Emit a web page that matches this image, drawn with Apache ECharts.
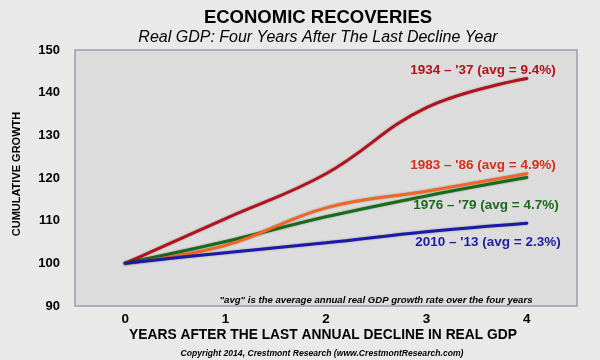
<!DOCTYPE html>
<html>
<head>
<meta charset="utf-8">
<script src="https://cdn.jsdelivr.net/npm/echarts@6/dist/echarts.min.js"></script>
<style>
html,body{margin:0;padding:0;background:#e9e9e9;}
#c{width:600px;height:360px;}
</style>
</head>
<body>
<div id="c"></div>
<script>
var years = [0, 1, 2, 3, 4];
var s1934 = [100, 110.5, 121, 136.5, 143.3];
var s1983 = [100, 104.2, 113.0, 116.9, 121.0];
var s1976 = [100, 105.1, 110.9, 115.8, 120.1];
var s2010 = [100, 102.5, 104.8, 107.4, 109.4];
var yTicks = [90, 100, 110, 120, 130, 140, 150];
var seriesNames = ["1934 – '37 (avg = 9.4%)", "1983 – '86 (avg = 4.9%)", "1976 – '79 (avg = 4.7%)", "2010 – '13 (avg = 2.3%)"];

function pts(arr){ return years.map(function(x,i){ return [x, arr[i]]; }); }

var F = '"Liberation Sans", Arial, sans-serif';
var chart = echarts.init(document.getElementById('c'));

function line(name, data, color, z){
  return {
    name: name, type: 'line', data: pts(data), smooth: 0.4, symbol: 'none', z: z,
    lineStyle: { color: color, width: 3, shadowBlur: 2, shadowColor: 'rgba(0,0,0,0.35)', cap: 'round' }
  };
}

chart.setOption({
  backgroundColor: '#e9e9e9',
  animation: false,
  grid: { left: 75, right: 23, top: 50, bottom: 54, show: true, backgroundColor: '#dcdcdc', borderColor: '#9c9cb0', borderWidth: 1.5 },
  xAxis: {
    type: 'value', min: -0.5, max: 4.5, interval: 0.5,
    axisLine: { show: false }, axisTick: { show: false }, splitLine: { show: false },
    axisLabel: { margin: 6, color: '#000', fontFamily: F, fontWeight: 'bold', fontSize: 13.5,
      formatter: function(v){ return (Math.abs(v % 1) < 1e-9) ? String(v) : ''; } }
  },
  yAxis: {
    type: 'value', min: yTicks[0], max: yTicks[yTicks.length-1], interval: 10,
    axisLine: { show: false }, axisTick: { show: false }, splitLine: { show: false },
    axisLabel: { margin: 15, color: '#000', fontFamily: F, fontWeight: 'bold', fontSize: 13, padding: [3, 0, 0, 0] }
  },
  series: [
    line(seriesNames[0], s1934, '#b3121c', 3),
    line(seriesNames[2], s1976, '#176b1a', 4),
    line(seriesNames[1], s1983, '#f26522', 5),
    line(seriesNames[3], s2010, '#1a1aa8', 6)
  ],
  graphic: [
    { type: 'text', x: 318, y: 18, style: { text: 'ECONOMIC RECOVERIES', font: 'bold 18.5px ' + F, fill: '#000', align: 'center', verticalAlign: 'middle' } },
    { type: 'text', x: 318, y: 38, style: { text: 'Real GDP: Four Years After The Last Decline Year', font: 'italic 16px ' + F, fill: '#000', align: 'center', verticalAlign: 'middle' } },
    { type: 'text', x: 17, y: 174, rotation: Math.PI/2, style: { text: 'CUMULATIVE GROWTH', font: 'bold 11px ' + F, fill: '#000', align: 'center', verticalAlign: 'middle' } },
    { type: 'text', x: 483, y: 70, style: { text: seriesNames[0], font: 'bold 13.5px ' + F, fill: '#b3121c', align: 'center', verticalAlign: 'middle' } },
    { type: 'text', x: 483, y: 165, style: { text: seriesNames[1], font: 'bold 13.5px ' + F, fill: '#d0321c', align: 'center', verticalAlign: 'middle' } },
    { type: 'text', x: 486, y: 205, style: { text: seriesNames[2], font: 'bold 13.5px ' + F, fill: '#1d6a1d', align: 'center', verticalAlign: 'middle' } },
    { type: 'text', x: 488, y: 242, style: { text: seriesNames[3], font: 'bold 13.5px ' + F, fill: '#1e1e9c', align: 'center', verticalAlign: 'middle' } },
    { type: 'text', x: 376, y: 300, style: { text: '"avg" is the average annual real GDP growth rate over the four years', font: 'italic bold 9.6px ' + F, fill: '#000', align: 'center', verticalAlign: 'middle' } },
    { type: 'text', x: 323, y: 335, style: { text: 'YEARS AFTER THE LAST ANNUAL DECLINE IN REAL GDP', font: 'bold 13.8px ' + F, fill: '#000', align: 'center', verticalAlign: 'middle' } },
    { type: 'text', x: 322, y: 354, style: { text: 'Copyright 2014, Crestmont Research (www.CrestmontResearch.com)', font: 'italic bold 8.6px ' + F, fill: '#000', align: 'center', verticalAlign: 'middle' } }
  ]
});
</script>
</body>
</html>
